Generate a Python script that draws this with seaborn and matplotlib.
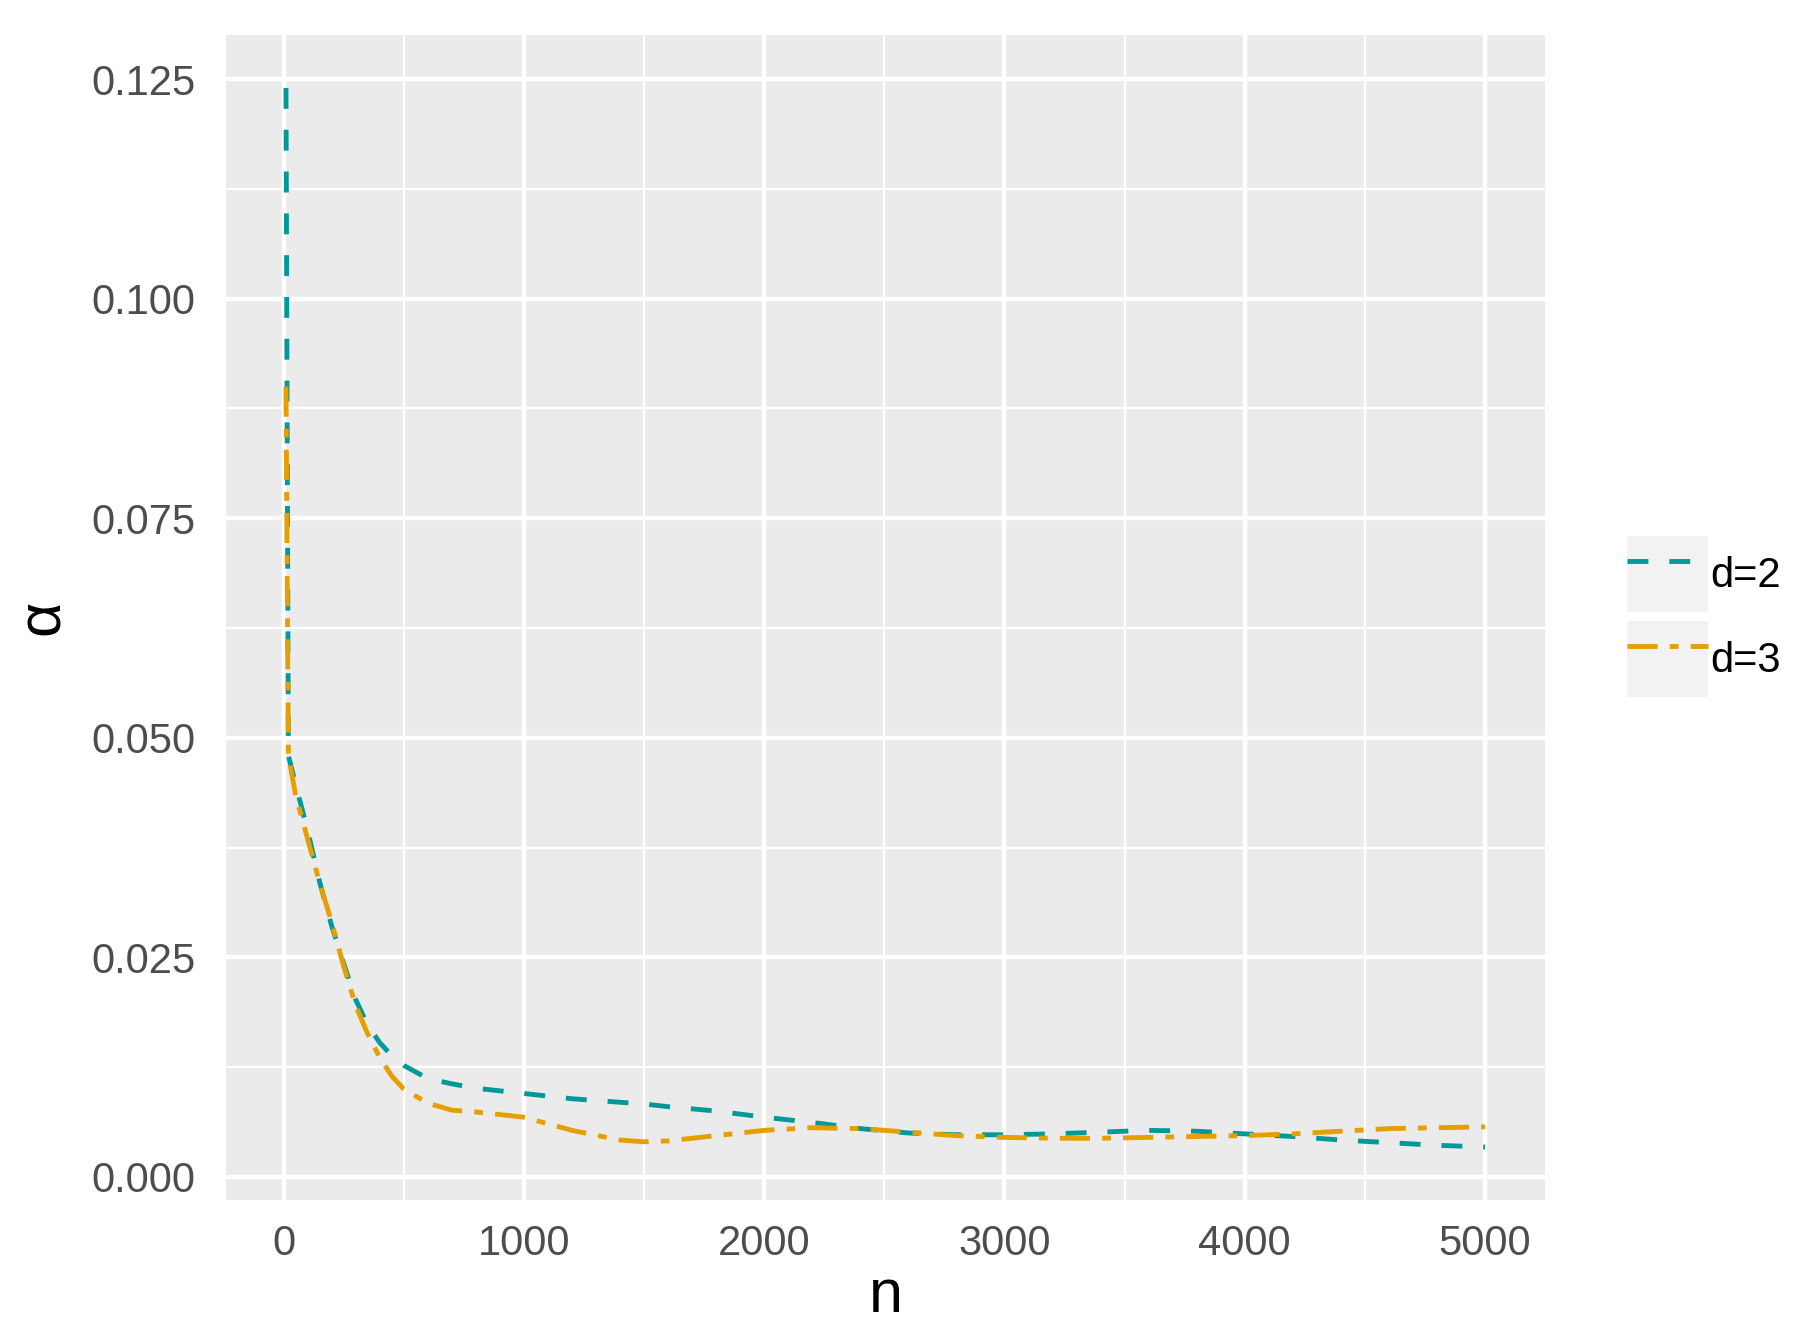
import numpy as np
import pandas as pd
import matplotlib
matplotlib.use("Agg")
import matplotlib.pyplot as plt
import seaborn as sns
from matplotlib.patches import Patch
from matplotlib.legend_handler import HandlerTuple
from matplotlib.ticker import MultipleLocator, FormatStrFormatter

# ---------------- data ----------------
n_values = [10, 20, 50, 100, 150, 200, 250, 300, 350, 400, 450, 500, 600, 700, 800,
            900, 1000, 1200, 1400, 1500, 1600, 1800, 2000, 2200, 2400, 2600, 2800,
            3000, 3200, 3400, 3600, 3800, 4000, 4200, 4400, 4600, 4800, 5000]

alpha_d2 = [0.124, 0.048, 0.0447, 0.0395, 0.0336, 0.0286, 0.0243, 0.0202, 0.0173,
            0.0153, 0.0138, 0.0127, 0.0112, 0.0106, 0.0101, 0.0098, 0.0095, 0.0089,
            0.0085, 0.0083, 0.0080, 0.0075, 0.0068, 0.0062, 0.0055, 0.0050, 0.0048,
            0.0048, 0.0049, 0.0051, 0.0053, 0.0052, 0.0049, 0.0046, 0.0042, 0.0039,
            0.0036, 0.0034]

alpha_d3 = [0.090, 0.048, 0.0435, 0.0385, 0.0335, 0.0290, 0.0240, 0.0195, 0.0163,
            0.0136, 0.0115, 0.0100, 0.0084, 0.0076, 0.0074, 0.0071, 0.0068, 0.0053,
            0.0042, 0.0040, 0.0041, 0.0047, 0.0053, 0.0056, 0.0055, 0.0051, 0.0047,
            0.0045, 0.0044, 0.0044, 0.0045, 0.0046, 0.0047, 0.0049, 0.0052, 0.0055,
            0.0056, 0.0057]

series_labels = ["d=2", "d=3"]
x_ticks = [0, 1000, 2000, 3000, 4000, 5000]
y_ticks = [0.000, 0.025, 0.050, 0.075, 0.100, 0.125]

df = pd.DataFrame({
    "n": n_values * 2,
    "alpha": alpha_d2 + alpha_d3,
    "d": [series_labels[0]] * len(n_values) + [series_labels[1]] * len(n_values),
})

# ---------------- style ----------------
sns.set_theme(style="darkgrid")
plt.rcParams["font.family"] = ["Liberation Sans", "DejaVu Sans"]

palette = {"d=2": "#009999", "d=3": "#E69F00"}
LW = 3.5
dashes = {"d=2": (4.3, 4.3), "d=3": (6.2, 2.5, 1.8, 2.5)}

fig = plt.figure(figsize=(18.15, 13.41), dpi=100)
ax = fig.add_axes([226 / 1815, 1 - 1200 / 1341, (1545 - 226) / 1815, (1200 - 35) / 1341])
ax.set_facecolor("#EBEBEB")

sns.lineplot(data=df, x="n", y="alpha", hue="d", style="d", palette=palette,
             dashes=dashes, linewidth=LW, ax=ax, legend=False, errorbar=None,
             hue_order=series_labels, style_order=series_labels)

ax.margins(x=0.05, y=0.05)
ax.set_xticks(x_ticks)
ax.set_yticks(y_ticks)
ax.xaxis.set_minor_locator(MultipleLocator(500))
ax.yaxis.set_minor_locator(MultipleLocator(0.0125))
ax.yaxis.set_major_formatter(FormatStrFormatter("%.3f"))

ax.grid(which="major", color="white", linewidth=3.2)
ax.grid(which="minor", color="white", linewidth=1.6)
ax.set_axisbelow(True)
for s in ax.spines.values():
    s.set_visible(False)

ax.tick_params(axis="both", which="major", length=12, width=3, color="#333333",
               labelsize=30, labelcolor="#4D4D4D", pad=10)
ax.tick_params(axis="x", which="major", pad=5)
ax.tick_params(axis="both", which="minor", length=0)

ax.set_xlabel("n", fontsize=44, color="black", labelpad=3)
ax.set_ylabel("α", fontsize=44, color="black", labelpad=14)

# legend with grey key backgrounds
handles = []
for line in ax.lines[:2]:
    handles.append((Patch(facecolor="#F2F2F2", edgecolor="none"), line))
leg = ax.legend(handles, series_labels, handler_map={tuple: HandlerTuple(ndivide=1, pad=0)},
                loc="center left", bbox_to_anchor=(1627 / 1815, 1 - 616.5 / 1341),
                bbox_transform=fig.transFigure, frameon=False, fontsize=30,
                handlelength=1.94, handleheight=2.45, labelspacing=0.2,
                handletextpad=0.05, borderpad=0, borderaxespad=0)
for t in leg.get_texts():
    t.set_color("black")

fig.savefig("out.png", dpi=100)
